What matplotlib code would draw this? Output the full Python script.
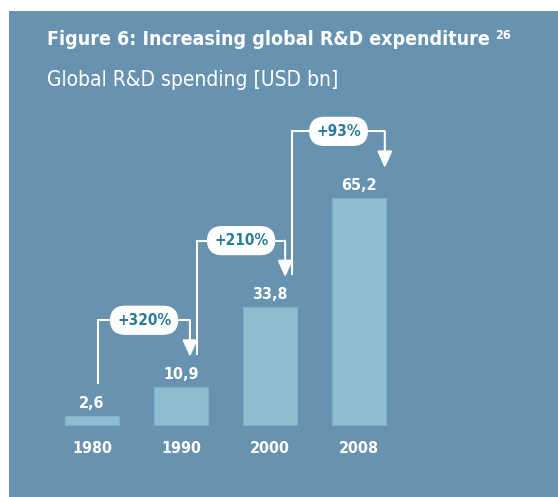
import matplotlib.pyplot as plt
from matplotlib import font_manager as fm

# data
years = ["1980", "1990", "2000", "2008"]
spending = [2.6, 10.9, 33.8, 65.2]
value_labels = ["2,6", "10,9", "33,8", "65,2"]
growth_labels = ["+320%", "+210%", "+93%"]

panel_color = "#6792b0"
bar_color = "#8cbdd0"
pill_text_color = "#2a7b96"

# the reference uses a narrow sans; take the narrowest one that is installed
entries = {(f.name, f.stretch) for f in fm.fontManager.ttflist}
names = {n for n, _ in entries}
if "Liberation Sans Narrow" in names:
    fam, stretch = "Liberation Sans Narrow", "normal"
elif ("DejaVu Sans", "condensed") in entries:
    fam, stretch = "DejaVu Sans", "condensed"
else:
    fam, stretch = "Liberation Sans", "normal"
font = dict(family=[fam, "DejaVu Sans"], stretch=stretch)

fig = plt.figure(figsize=(5.58, 4.97), dpi=100, facecolor="white")
ax = fig.add_axes([9 / 558, 0, 549 / 558, 486 / 497])
ax.set_facecolor(panel_color)
for s in ax.spines.values():
    s.set_visible(False)
ax.set_xticks([])
ax.set_yticks([])
ax.set_xlim(-0.933, 5.236)
ax.set_ylim(-20.7, 119.0)

x = list(range(len(years)))
ax.bar(x, spending, width=0.607, color=bar_color, edgecolor="#7fb0c5", linewidth=0.8)

for xi, v, lab, yr in zip(x, spending, value_labels, years):
    ax.text(xi, v + 3.7, lab, ha="center", va="center", color="white",
            fontsize=11.5, fontweight="bold", **font)
    ax.text(xi, -6.9, yr, ha="center", va="center", color="white",
            fontsize=11.5, fontweight="bold", **font)

# growth connectors
start_dx = [0.07, 0.18, 0.25]
end_dx = [0.10, 0.17, 0.29]
for i, lab in enumerate(growth_labels):
    x0 = x[i] + start_dx[i]
    x1 = x[i + 1] + end_dx[i]
    y0 = spending[i] + 9.2
    y1 = spending[i + 1] + 8.7
    level = spending[i + 1] + 19.2
    ax.plot([x0, x0, x1], [y0, level, level], color="white", lw=1.5,
            solid_joinstyle="miter", solid_capstyle="butt")
    ax.annotate("", xy=(x1, y1), xytext=(x1, level),
                arrowprops=dict(arrowstyle="-|>,head_length=1.0,head_width=0.45",
                                mutation_scale=10, color="white", lw=1.5,
                                shrinkA=0, shrinkB=0))
    ax.text((x0 + x1) / 2, level, lab, ha="center", va="center",
            color=pill_text_color, fontsize=11, fontweight="bold",
            bbox=dict(boxstyle="round,pad=0.42,rounding_size=0.95",
                      fc="white", ec="white"), **font)

title = fig.text(47 / 558, 1 - 45 / 497, "Figure 6: Increasing global R&D expenditure",
                 ha="left", va="baseline", color="white", fontsize=14,
                 fontweight="bold", **font)
ax.annotate("26", xy=(1, 1), xycoords=title, xytext=(4, 1),
            textcoords="offset points", ha="left", va="top", color="white",
            fontsize=9, fontweight="bold", annotation_clip=False, **font)
fig.text(47 / 558, 1 - 86 / 497, "Global R&D spending [USD bn]",
         ha="left", va="baseline", color="white", fontsize=15, **font)

fig.savefig("out.png", dpi=100, facecolor="white")
